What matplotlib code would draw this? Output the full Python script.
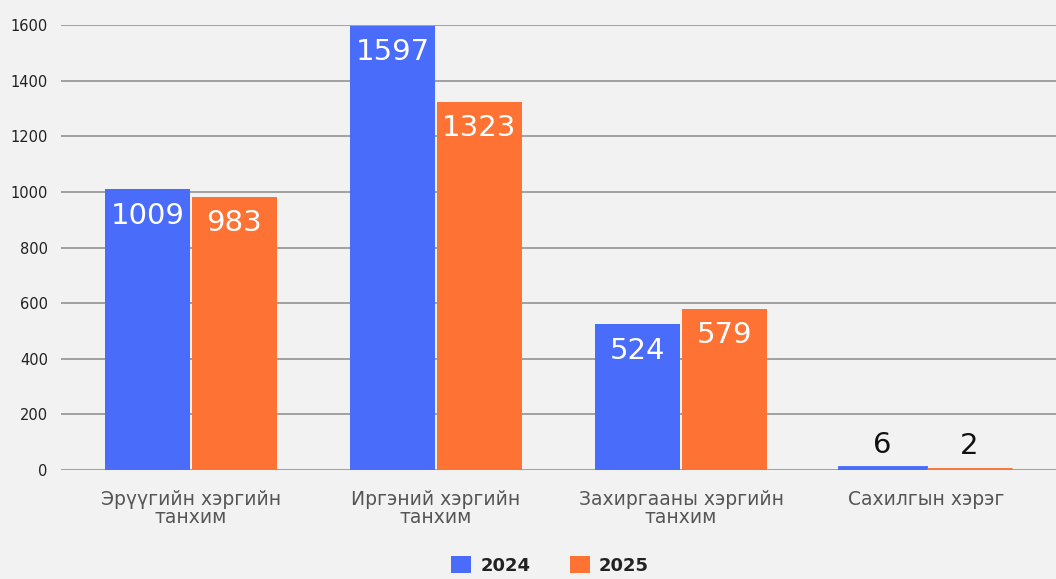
import numpy as np
import matplotlib
matplotlib.use('Agg')
import matplotlib.pyplot as plt

plt.rcParams['font.family'] = ['DejaVu Sans']

categories = ['Эрүүгийн хэргийн\nтанхим', 'Иргэний хэргийн\nтанхим',
              'Захиргааны хэргийн\nтанхим', 'Сахилгын хэрэг']
years = ['2024', '2025']
vals_2024 = [1009, 1597, 524, 6]
vals_2025 = [983, 1323, 579, 2]
yticks = [0, 200, 400, 600, 800, 1000, 1200, 1400, 1600]

blue = '#4a6cfa'
orange = '#fe7334'
bg = '#f2f2f2'

fig = plt.figure(figsize=(10.56, 5.79), dpi=100, facecolor=bg)
ax = fig.add_axes([0.0578, 0.188, 0.9422, 0.769])
ax.set_facecolor(bg)

x = np.arange(len(categories))
w = 0.347
off = 0.355
b1 = ax.bar(x - off / 2, vals_2024, w, color=blue, zorder=3, label=years[0])
b2 = ax.bar(x + off / 2, vals_2025, w, color=orange, zorder=3, label=years[1])

for bars in (b1, b2):
    for r in bars:
        v = r.get_height()
        cx = r.get_x() + r.get_width() / 2
        if v > 100:
            ax.annotate(str(int(v)), (cx, v), xytext=(0, -19), textcoords='offset points',
                        ha='center', va='center', color='white', fontsize=21, zorder=4)
        else:
            # very small bars get an outline so they stay visible
            r.set_edgecolor(r.get_facecolor())
            r.set_linewidth(3.5)
            ax.annotate(str(int(v)), (cx, v), xytext=(0, 17), textcoords='offset points',
                        ha='center', va='center', color='#111111', fontsize=21, zorder=4)

ax.set_ylim(0, 1600)
ax.set_xlim(-0.53, 3.53)
ax.set_yticks(yticks)
ax.set_yticklabels([str(t) for t in yticks], fontsize=10.5, color='#222222')
ax.set_xticks(x)
ax.set_xticklabels(categories, fontsize=13.5, color='#555555', linespacing=0.95)
ax.tick_params(axis='both', length=0)
ax.tick_params(axis='x', pad=14)
ax.tick_params(axis='y', pad=9.5)
ax.grid(axis='y', color='#a0a0a0', linewidth=1.4, zorder=0)
for s in ax.spines.values():
    s.set_visible(False)

leg = fig.legend(handles=[b1, b2], labels=years, loc='center', bbox_to_anchor=(0.521, 0.024),
                 ncol=2, frameon=False, handlelength=1.1, handleheight=1.1,
                 columnspacing=2.2, handletextpad=0.5,
                 prop={'weight': 'bold', 'size': 13})
for t in leg.get_texts():
    t.set_color('#222222')

fig.savefig('out.png', dpi=100, facecolor=bg)
